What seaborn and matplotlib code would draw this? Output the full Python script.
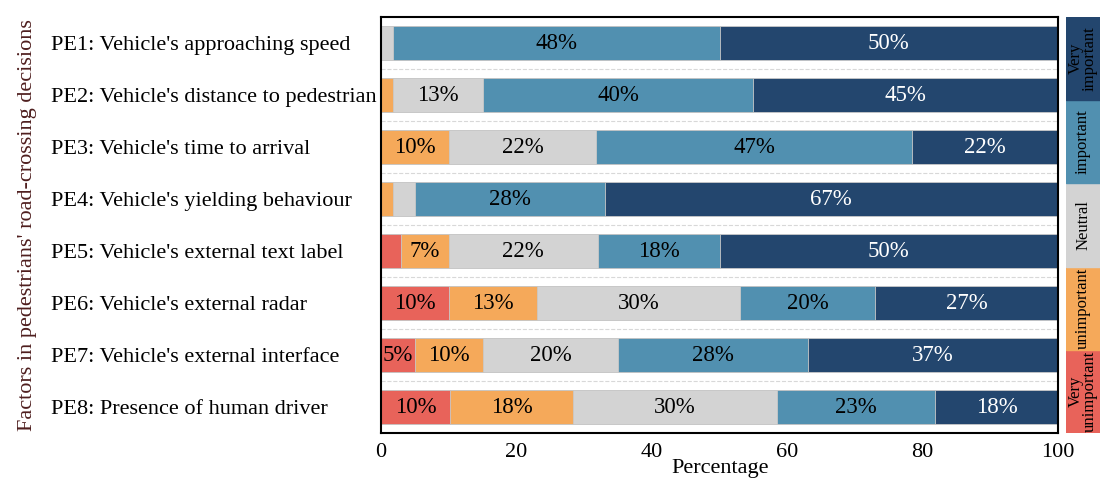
import numpy as np
import pandas as pd
import matplotlib
matplotlib.use("Agg")
import matplotlib.pyplot as plt
import seaborn as sns

# Data (percentages per rating level)
factors = ["PE1: Vehicle's approaching speed",
           "PE2: Vehicle's distance to pedestrian",
           "PE3: Vehicle's time to arrival",
           "PE4: Vehicle's yielding behaviour",
           "PE5: Vehicle's external text label",
           "PE6: Vehicle's external radar",
           "PE7: Vehicle's external interface",
           "PE8: Presence of human driver"]
very_unimportant = [0, 0, 0, 0, 3, 10, 5, 10.2]
unimportant = [0, 1.7, 10, 1.7, 7, 13, 10, 18.1]
neutral = [1.7, 13.3, 21.8, 3.3, 22, 30, 20, 30.1]
important = [48.3, 40, 46.6, 28, 18, 20, 28, 23.4]
very_important = [50, 45, 21.6, 67, 50, 27, 37, 18.2]

levels = ["Very\nunimportant", "unimportant", "Neutral", "important", "Very\nimportant"]
colors = ["#e8635a", "#f5a95a", "#d3d3d3", "#5190b0", "#23466e"]

df = pd.DataFrame({"factor": factors,
                   levels[0]: very_unimportant,
                   levels[1]: unimportant,
                   levels[2]: neutral,
                   levels[3]: important,
                   levels[4]: very_important})

sns.set_style("white")
plt.rcParams['font.family'] = ['Liberation Serif', 'DejaVu Serif']
plt.rcParams['text.color'] = 'black'
plt.rcParams['axes.labelcolor'] = 'black'
plt.rcParams['xtick.color'] = 'black'
plt.rcParams['ytick.color'] = 'black'

fig = plt.figure(figsize=(11.08, 4.86), dpi=100)
ax = fig.add_axes([0.344, 0.109, 0.611, 0.856])

cum = df[levels].cumsum(axis=1)
# draw from the outermost stack inward so the shorter bars sit on top
for lev, col in zip(levels[::-1], colors[::-1]):
    sns.barplot(x=cum[lev], y=df["factor"], color=col, orient="h", saturation=1,
                width=0.65, edgecolor="#c8c8c8", linewidth=0.6, ax=ax)

# percentage labels
for i in range(len(factors)):
    left = 0
    for lev in levels:
        v = df[lev][i]
        if v >= 4.5:
            tc = "white" if lev == levels[4] else "black"
            ax.text(left + v / 2, i, f"{round(v):.0f}%", ha="center", va="center",
                    fontsize=16.5, color=tc)
        left += v

for i in range(len(factors) - 1):
    ax.axhline(i + 0.5, color="#d8d8d8", linestyle="--", linewidth=0.8, zorder=0)

ax.set_xlim(0, 100)
ax.set_xticks([0, 20, 40, 60, 80, 100])
ax.tick_params(axis="x", direction="in", length=4, labelsize=16, pad=7)
ax.tick_params(axis="y", length=0, labelsize=16, pad=238)
for lab in ax.get_yticklabels():
    lab.set_horizontalalignment("left")
ax.set_xlabel("Percentage", fontsize=16, labelpad=-2)
ax.set_ylabel("Factors in pedestrians' road-crossing decisions", fontsize=16,
              color="#4e1e1e", labelpad=10)
for s in ax.spines.values():
    s.set_color("black")
    s.set_linewidth(1.5)
    s.set_visible(True)

# colour key on the right
lax = fig.add_axes([0.962, 0.109, 0.031, 0.856])
for k, (lev, col) in enumerate(zip(levels, colors)):
    lax.axhspan(k, k + 1, color=col)
    lax.text(0.5, k + 0.5, lev, rotation=90, ha="center", va="center",
             fontsize=12, color="black", linespacing=0.8)
lax.set_ylim(0, 5)
lax.set_xlim(0, 1)
lax.axis("off")

fig.savefig("out.png", dpi=100)
